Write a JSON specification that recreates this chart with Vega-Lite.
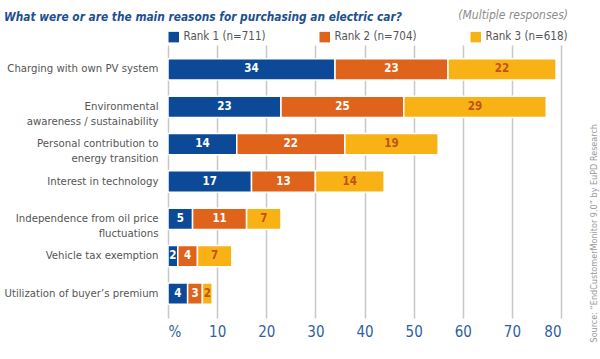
{
  "$schema": "https://vega.github.io/schema/vega-lite/v6.json",
  "width": 393,
  "height": 273,
  "autosize": {"type": "none"},
  "padding": {"left": 168, "top": 45, "right": 39, "bottom": 41},
  "background": "white",
  "config": {
    "font": "DejaVu Sans Condensed, Roboto Condensed, Liberation Sans Narrow, Roboto, sans-serif",
    "view": {"stroke": null}
  },
  "title": {
    "text": "What were or are the main reasons for purchasing an electric car?",
    "anchor": "start",
    "frame": "bounds",
    "font": "DejaVu Sans Condensed, Roboto Condensed, Liberation Sans Narrow, Roboto, sans-serif",
    "fontSize": 11.8,
    "fontStyle": "italic",
    "fontWeight": "bold",
    "color": "#1c4f91",
    "offset": -14
  },
  "data": {
    "values": [
      {"reason": "Charging with own PV system", "rank": "Rank 1 (n=711)", "r": 1, "value": 34},
      {"reason": "Charging with own PV system", "rank": "Rank 2 (n=704)", "r": 2, "value": 23},
      {"reason": "Charging with own PV system", "rank": "Rank 3 (n=618)", "r": 3, "value": 22},
      {"reason": "Environmental|awareness / sustainability", "rank": "Rank 1 (n=711)", "r": 1, "value": 23},
      {"reason": "Environmental|awareness / sustainability", "rank": "Rank 2 (n=704)", "r": 2, "value": 25},
      {"reason": "Environmental|awareness / sustainability", "rank": "Rank 3 (n=618)", "r": 3, "value": 29},
      {"reason": "Personal contribution to|energy transition", "rank": "Rank 1 (n=711)", "r": 1, "value": 14},
      {"reason": "Personal contribution to|energy transition", "rank": "Rank 2 (n=704)", "r": 2, "value": 22},
      {"reason": "Personal contribution to|energy transition", "rank": "Rank 3 (n=618)", "r": 3, "value": 19},
      {"reason": "Interest in technology", "rank": "Rank 1 (n=711)", "r": 1, "value": 17},
      {"reason": "Interest in technology", "rank": "Rank 2 (n=704)", "r": 2, "value": 13},
      {"reason": "Interest in technology", "rank": "Rank 3 (n=618)", "r": 3, "value": 14},
      {"reason": "Independence from oil price|fluctuations", "rank": "Rank 1 (n=711)", "r": 1, "value": 5},
      {"reason": "Independence from oil price|fluctuations", "rank": "Rank 2 (n=704)", "r": 2, "value": 11},
      {"reason": "Independence from oil price|fluctuations", "rank": "Rank 3 (n=618)", "r": 3, "value": 7},
      {"reason": "Vehicle tax exemption", "rank": "Rank 1 (n=711)", "r": 1, "value": 2},
      {"reason": "Vehicle tax exemption", "rank": "Rank 2 (n=704)", "r": 2, "value": 4},
      {"reason": "Vehicle tax exemption", "rank": "Rank 3 (n=618)", "r": 3, "value": 7},
      {"reason": "Utilization of buyer’s premium", "rank": "Rank 1 (n=711)", "r": 1, "value": 4},
      {"reason": "Utilization of buyer’s premium", "rank": "Rank 2 (n=704)", "r": 2, "value": 3},
      {"reason": "Utilization of buyer’s premium", "rank": "Rank 3 (n=618)", "r": 3, "value": 2}
    ]
  },
  "transform": [
    {"stack": "value", "groupby": ["reason"], "sort": [{"field": "r", "order": "ascending"}], "as": ["v0", "v1"]},
    {"calculate": "(datum.v0 + datum.v1) / 2", "as": "mid"}
  ],
  "encoding": {
    "y": {
      "field": "reason",
      "type": "nominal",
      "sort": null,
      "scale": {"paddingInner": 0.43, "paddingOuter": 0.37},
      "axis": {
        "ticks": false,
        "domain": false,
        "labelExpr": "split(datum.label, '|')",
        "labelFontSize": 11.3,
        "labelColor": "#555555",
        "labelPadding": 10,
        "labelLineHeight": 15,
        "labelLimit": 300,
        "title": "Source: “EndCustomerMonitor 9.0” by EuPD Research",
        "titleFontSize": 9,
        "titleFontWeight": "normal",
        "titleColor": "#9a9a9a",
        "titleAngle": -90,
        "titleAlign": "left",
        "titleBaseline": "middle",
        "titleX": 425,
        "titleY": 297
      }
    }
  },
  "layer": [
    {
      "mark": {"type": "bar", "stroke": "white", "strokeWidth": 1.5},
      "encoding": {
        "x": {
          "field": "v0",
          "type": "quantitative",
          "scale": {"domain": [0, 80], "nice": false},
          "axis": {
            "title": null,
            "values": [0, 10, 20, 30, 40, 50, 60, 70, 80],
            "labelExpr": "datum.value == 0 ? '%' : datum.label",
            "labelFontSize": 15,
            "labelColor": "#2f5f9e",
            "labelPadding": 6,
            "ticks": false,
            "domain": false,
            "grid": true,
            "gridColor": "#c8c8c8",
            "gridWidth": 1.5
          }
        },
        "x2": {"field": "v1"},
        "color": {
          "field": "rank",
          "type": "nominal",
          "scale": {
            "domain": ["Rank 1 (n=711)", "Rank 2 (n=704)", "Rank 3 (n=618)"],
            "range": ["#0c4a97", "#df631a", "#f9b216"]
          },
          "legend": {
            "orient": "top",
            "direction": "horizontal",
            "title": "(Multiple responses)",
            "titleOrient": "top",
            "titleAnchor": "end",
            "titleFontSize": 12,
            "titleFontStyle": "italic",
            "titleFontWeight": "normal",
            "titleColor": "#8c8c8c",
            "titlePadding": 9,
            "symbolType": "square",
            "symbolSize": 110,
            "symbolStrokeWidth": 0,
            "symbolOpacity": 1,
            "labelFontSize": 11.5,
            "labelColor": "#555555",
            "columnPadding": 53,
            "offset": 2
          }
        }
      }
    },
    {
      "mark": {"type": "text", "fontWeight": "bold", "fontSize": 11.5, "baseline": "middle"},
      "encoding": {
        "x": {"field": "mid", "type": "quantitative"},
        "text": {"field": "value", "type": "quantitative"},
        "color": {
          "condition": {"test": "datum.r == 3", "value": "#c0521a"},
          "value": "white"
        }
      }
    }
  ]
}
